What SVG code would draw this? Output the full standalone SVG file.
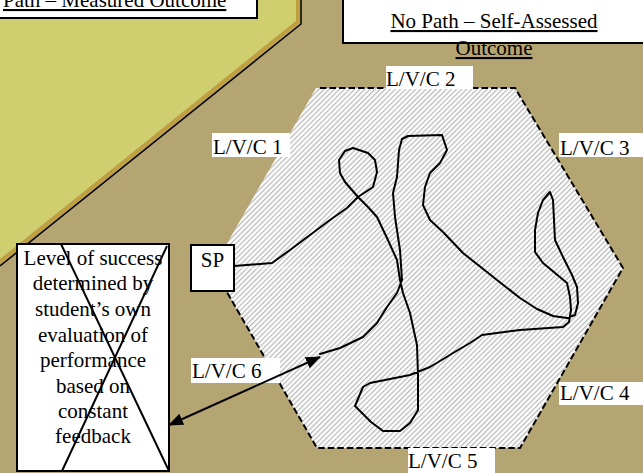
<svg xmlns="http://www.w3.org/2000/svg" width="643" height="473" viewBox="0 0 643 473">
<style>
.t{font-family:'Liberation Serif','Times New Roman',serif;font-size:21px;fill:#000}
.u{text-decoration:underline}
.box{fill:#fff;stroke:#000;stroke-width:2}
.lbl{fill:#fff}
.dash{fill:none;stroke:#000;stroke-width:2;stroke-dasharray:6.5 3}
.curve{fill:none;stroke:#000;stroke-width:2;stroke-linejoin:round;stroke-linecap:round}
</style>
<defs>
<pattern id="hatch" patternUnits="userSpaceOnUse" width="3.6" height="3.6" patternTransform="rotate(45)">
<rect width="3.6" height="3.6" fill="#ffffff"/>
<rect width="1.3" height="3.6" fill="#bcbcbc"/>
</pattern>
<marker id="ah" markerUnits="userSpaceOnUse" markerWidth="16" markerHeight="12" refX="14" refY="6" orient="auto-start-reverse">
<path d="M0,0 L15,6 L0,12 z" fill="#000"/>
</marker>
</defs>
<rect width="643" height="473" fill="#b5a573"/>
<g id="measured-region">
<polygon points="0,0 296,0 296,21 0,259" fill="#cfcf6f"/>
<polyline points="298,0 298,22 0,262" fill="none" stroke="#bf9f3f" stroke-width="4"/>
<polyline points="301,0 301,24 0,266" fill="none" stroke="#000" stroke-width="1.5"/>
</g>
<g id="title-path">
<rect class="box" x="-2" y="-2" width="259" height="20"/>
<text class="t u" x="3" y="7">Path – Measured Outcome</text>
</g>
<g id="title-nopath">
<rect class="box" x="343" y="-2" width="302" height="45"/>
<text class="t u" x="494" y="28" text-anchor="middle">No Path – Self-Assessed</text>
<text class="t u" x="494" y="55" text-anchor="middle">Outcome</text>
</g>
<g id="hexagon">
<polygon points="316,88 515,88 623,268 520,448 317,448 213,268" fill="url(#hatch)"/>
<line x1="214" y1="268" x2="622" y2="268" stroke="#fff" stroke-width="1" opacity="0.6"/>
<polyline class="dash" points="320,88 515,88 623,268 520,448 317,448 213,268"/>
</g>
<g id="lvc1"><rect class="lbl" x="212" y="133" width="78" height="24"/><text class="t" x="213" y="154">L/V/C 1</text></g>
<g id="lvc2"><rect class="lbl" x="386" y="66" width="87" height="23"/><text class="t" x="386" y="86">L/V/C 2</text></g>
<g id="lvc3"><rect class="lbl" x="559" y="133" width="84" height="24"/><text class="t" x="560" y="155">L/V/C 3</text></g>
<g id="lvc4"><rect class="lbl" x="559" y="382" width="84" height="23"/><text class="t" x="560" y="400">L/V/C 4</text></g>
<g id="lvc5"><rect class="lbl" x="408" y="448" width="87" height="25"/><text class="t" x="408" y="468">L/V/C 5</text></g>
<g id="lvc6"><rect class="lbl" x="191" y="358" width="89" height="25"/><text class="t" x="192" y="378">L/V/C 6</text></g>
<g id="sp">
<rect class="box" x="191" y="245" width="43" height="46"/>
<text class="t" x="212.5" y="267" text-anchor="middle">SP</text>
</g>
<g id="success-box">
<rect class="box" x="17" y="244" width="152" height="227"/>
<g class="t" text-anchor="middle">
<text x="93" y="265">Level of success</text>
<text x="93" y="290">determined by</text>
<text x="93" y="316">student’s own</text>
<text x="93" y="342">evaluation of</text>
<text x="93" y="367">performance</text>
<text x="93" y="393">based on</text>
<text x="93" y="418">constant</text>
<text x="93" y="443">feedback</text>
</g>
<line x1="61" y1="244" x2="169" y2="471" stroke="#000" stroke-width="2"/>
<line x1="167" y1="246" x2="62" y2="471" stroke="#000" stroke-width="2"/>
</g>
<g id="connectors">
<path class="curve" d="M234,266 L272,263 L290,250 L310,235 L330,220 L347,208 L358,197 L373,187 L377,172 L375,160 L368,153 L353,148 L345,151 L339,160 L340,173 L345,182 L358,197 L368,207 L377,217 L387,238 L397,260 L400,280 L403,293 L410,313 L417,345 L418,375 L418,410 L410,423 L400,431 L383,431 L371,422 L355,406 L363,387 L370,383 L390,379 L410,375 L430,367 L445,358 L453,353 L470,343 L482,335 L520,330 L563,327 L569,322 L571,310 L570,297 L567,283 L555,273 L543,263 L535,252 L535,230 L538,213 L543,200 L550,192 L553,200 L554,220 L555,240 L563,257 L572,275 L577,287 L578,303 L575,315 L567,318 L553,316 L537,309 L520,298 L497,280 L463,253 L443,232 L430,220 L423,205 L425,187 L430,173 L440,163 L447,150 L442,135 L408,136 L402,139 L399,150 L397,177 L393,193 L395,217 L400,250 L402,280 L397,293 L387,307 L377,323 L363,337 L340,348 L320,354"/>
<line x1="169" y1="425" x2="320" y2="357" stroke="#000" stroke-width="2" marker-start="url(#ah)" marker-end="url(#ah)"/>
</g>
</svg>
